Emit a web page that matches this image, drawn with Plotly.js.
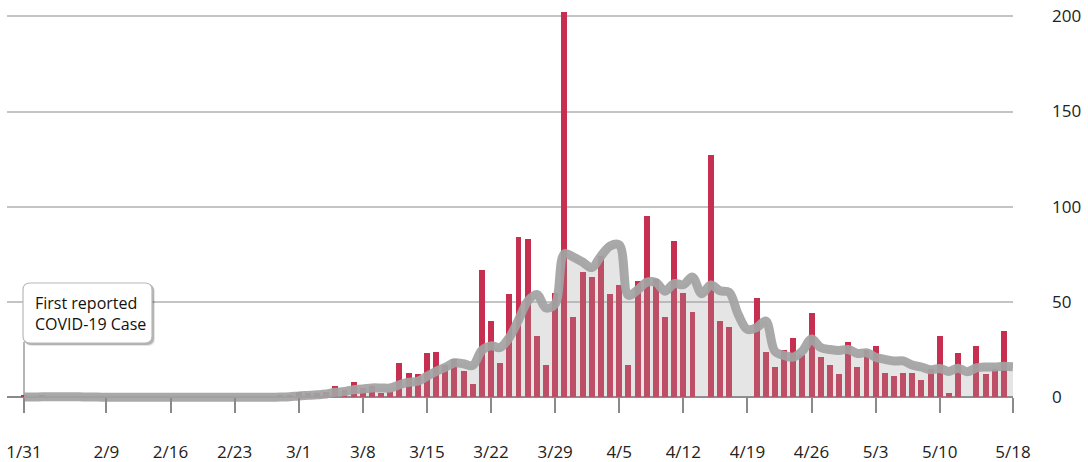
<!DOCTYPE html>
<html>
<head>
<meta charset="utf-8">
<script src="https://cdn.plot.ly/plotly-3.0.1.min.js"></script>
<style>
html,body{margin:0;padding:0;background:#fff;}
#chart{width:1088px;height:462px;}
</style>
</head>
<body>
<div id="chart"></div>
<script>
// Dates (daily, 2020-01-31 .. 2020-05-18)
const dates = [
"2020-01-31",
"2020-02-01","2020-02-02","2020-02-03","2020-02-04","2020-02-05","2020-02-06","2020-02-07","2020-02-08","2020-02-09","2020-02-10",
"2020-02-11","2020-02-12","2020-02-13","2020-02-14","2020-02-15","2020-02-16","2020-02-17","2020-02-18","2020-02-19","2020-02-20",
"2020-02-21","2020-02-22","2020-02-23","2020-02-24","2020-02-25","2020-02-26","2020-02-27","2020-02-28","2020-02-29",
"2020-03-01","2020-03-02","2020-03-03","2020-03-04","2020-03-05","2020-03-06","2020-03-07","2020-03-08","2020-03-09","2020-03-10",
"2020-03-11","2020-03-12","2020-03-13","2020-03-14","2020-03-15","2020-03-16","2020-03-17","2020-03-18","2020-03-19","2020-03-20",
"2020-03-21","2020-03-22","2020-03-23","2020-03-24","2020-03-25","2020-03-26","2020-03-27","2020-03-28","2020-03-29","2020-03-30","2020-03-31",
"2020-04-01","2020-04-02","2020-04-03","2020-04-04","2020-04-05","2020-04-06","2020-04-07","2020-04-08","2020-04-09","2020-04-10",
"2020-04-11","2020-04-12","2020-04-13","2020-04-14","2020-04-15","2020-04-16","2020-04-17","2020-04-18","2020-04-19","2020-04-20",
"2020-04-21","2020-04-22","2020-04-23","2020-04-24","2020-04-25","2020-04-26","2020-04-27","2020-04-28","2020-04-29","2020-04-30",
"2020-05-01","2020-05-02","2020-05-03","2020-05-04","2020-05-05","2020-05-06","2020-05-07","2020-05-08","2020-05-09","2020-05-10",
"2020-05-11","2020-05-12","2020-05-13","2020-05-14","2020-05-15","2020-05-16","2020-05-17","2020-05-18"
];

// Daily new cases
const dailyCases = [
1,
0,1,0,0,0,0,0,0,0,0,
0,0,0,0,0,0,0,0,0,0,
0,0,0,0,0,0,0,1,1,
3,2,2,3,6,4,8,5,6,2,
3,18,13,12,23,24,17,20,14,7,
67,40,18,54,84,83,32,17,55,202,42,
66,63,74,54,59,17,61,95,62,42,
82,55,45,0,127,40,37,0,0,52,
24,16,25,31,22,44,21,17,12,29,
16,25,27,13,11,13,13,9,15,32,
2,23,0,27,12,15,35,0
];

// 7-day average line
const sevenDayAvg = [
0.1,
0.1,0.3,0.3,0.3,0.3,0.3,0.1,0.1,0,0,
0,0,0,0,0,0,0,0,0,0,
0,0,0,0,0,0,0,0.1,0.3,
0.7,1.0,1.3,1.7,2.6,3.0,4.0,4.3,4.9,4.9,
4.9,6.6,7.9,8.4,11.0,13.6,15.7,18.1,17.6,16.7,
24.6,27.0,26.1,31.4,40.6,50.4,54.0,46.9,49.0,75.3,73.6,
71.0,68.1,74.1,79.4,80.0,53.6,56.3,60.4,60.3,55.7,
59.7,59.1,63.1,54.4,59.0,55.9,55.1,43.4,35.6,36.6,
40.0,24.1,22.0,21.1,24.3,30.6,26.1,25.1,24.6,25.1,
23.0,23.4,21.0,19.9,19.0,19.1,16.9,15.9,14.4,15.1,
13.6,15.3,13.4,15.4,15.9,15.9,16.3,16.0
];

// Axis ticks
const tickDates = ["2020-01-31","2020-02-09","2020-02-16","2020-02-23","2020-03-01","2020-03-08","2020-03-15","2020-03-22","2020-03-29","2020-04-05","2020-04-12","2020-04-19","2020-04-26","2020-05-03","2020-05-10","2020-05-18"];
const tickLabels = ["1/31","2/9","2/16","2/23","3/1","3/8","3/15","3/22","3/29","4/5","4/12","4/19","4/26","5/3","5/10","5/18"];
const yTicks = [0,50,100,150,200];

const annotationText = "First reported<br>COVID-19 Case";
const annotationDate = "2020-01-31";

const DAY = 86400000;
const yMin = -3, yMax = 204.35;

// page geometry (for the decorative callout box)
const W = 1088, H = 462;
const M = {l: 7, r: 75, t: 8, b: 59};
const PW = W - M.l - M.r, PH = H - M.t - M.b;
const px = v => (v - M.l) / PW;
const py = v => (H - M.b - v) / PH;
function roundRect(x0, y0, x1, y1, r) {
  const P = (x, y) => px(x).toFixed(5) + ',' + py(y).toFixed(5);
  return 'M' + P(x0 + r, y0) + ' L' + P(x1 - r, y0) + ' Q' + P(x1, y0) + ' ' + P(x1, y0 + r) +
         ' L' + P(x1, y1 - r) + ' Q' + P(x1, y1) + ' ' + P(x1 - r, y1) +
         ' L' + P(x0 + r, y1) + ' Q' + P(x0, y1) + ' ' + P(x0, y1 - r) +
         ' L' + P(x0, y0 + r) + ' Q' + P(x0, y0) + ' ' + P(x0 + r, y0) + ' Z';
}
const box = {x0: 23, y0: 283, x1: 152, y1: 343, r: 7};

const traces = [
  {
    type: 'bar',
    x: dates,
    y: dailyCases,
    width: 0.65 * DAY,
    marker: {color: '#c72f50', line: {width: 0}},
    hoverinfo: 'x+y',
    showlegend: false
  },
  {
    type: 'scatter',
    mode: 'lines',
    x: dates,
    y: sevenDayAvg,
    line: {color: 'rgba(163,163,163,0.93)', width: 9, shape: 'spline', smoothing: 1},
    fill: 'tozeroy',
    fillcolor: 'rgba(163,163,163,0.28)',
    hoverinfo: 'x+y',
    showlegend: false
  }
];

const layout = {
  width: W,
  height: H,
  margin: M,
  paper_bgcolor: '#ffffff',
  plot_bgcolor: '#ffffff',
  bargap: 0,
  showlegend: false,
  font: {family: '"Open Sans", "Noto Sans", sans-serif', size: 17, color: '#222'},
  xaxis: {
    type: 'date',
    range: ['2020-01-29 03:26', '2020-05-18 00:00'],
    anchor: 'free',
    position: (0 - yMin) / (yMax - yMin),
    tickmode: 'array',
    tickvals: tickDates,
    ticktext: tickLabels,
    ticks: 'outside',
    ticklen: 15,
    tickwidth: 2,
    tickcolor: '#8a8a8a',
    ticklabelstandoff: 24,
    showgrid: false,
    zeroline: false,
    showline: false,
    tickfont: {size: 17, color: '#222'},
    fixedrange: true
  },
  yaxis: {
    range: [yMin, yMax],
    side: 'right',
    tickmode: 'array',
    tickvals: yTicks,
    ticktext: yTicks.map(String),
    ticks: '',
    showgrid: true,
    gridcolor: '#c4c4c4',
    gridwidth: 2,
    zeroline: true,
    zerolinecolor: '#8a8a8a',
    zerolinewidth: 2,
    showline: false,
    ticklabelstandoff: 38,
    tickfont: {size: 17, color: '#222'},
    fixedrange: true
  },
  shapes: [
    {
      type: 'line', xref: 'x', yref: 'y',
      x0: annotationDate, x1: annotationDate, y0: 0, y1: 29,
      line: {color: '#b5b5b5', width: 2},
      layer: 'below'
    },
    // soft shadow of the callout
    {
      type: 'path', xref: 'paper', yref: 'paper',
      path: roundRect(box.x0 + 2, box.y0 + 2, box.x1 + 3, box.y1 + 3, box.r),
      fillcolor: 'rgba(0,0,0,0.10)', line: {width: 0}, layer: 'above'
    },
    {
      type: 'path', xref: 'paper', yref: 'paper',
      path: roundRect(box.x0 + 1, box.y0 + 1, box.x1 + 2, box.y1 + 2, box.r),
      fillcolor: 'rgba(0,0,0,0.22)', line: {width: 0}, layer: 'above'
    },
    {
      type: 'path', xref: 'paper', yref: 'paper',
      path: roundRect(box.x0, box.y0, box.x1, box.y1, box.r),
      fillcolor: '#ffffff', line: {color: '#b8b8b8', width: 1.2}, layer: 'above'
    }
  ],
  annotations: [
    {
      x: px(33), y: py((box.y0 + box.y1) / 2), xref: 'paper', yref: 'paper',
      xanchor: 'left', yanchor: 'middle',
      text: annotationText,
      showarrow: false,
      align: 'left',
      font: {family: '"Open Sans", "Noto Sans", sans-serif', size: 16, color: '#111'}
    }
  ]
};

Plotly.newPlot('chart', traces, layout, {displayModeBar: false, staticPlot: true});
</script>
</body>
</html>
